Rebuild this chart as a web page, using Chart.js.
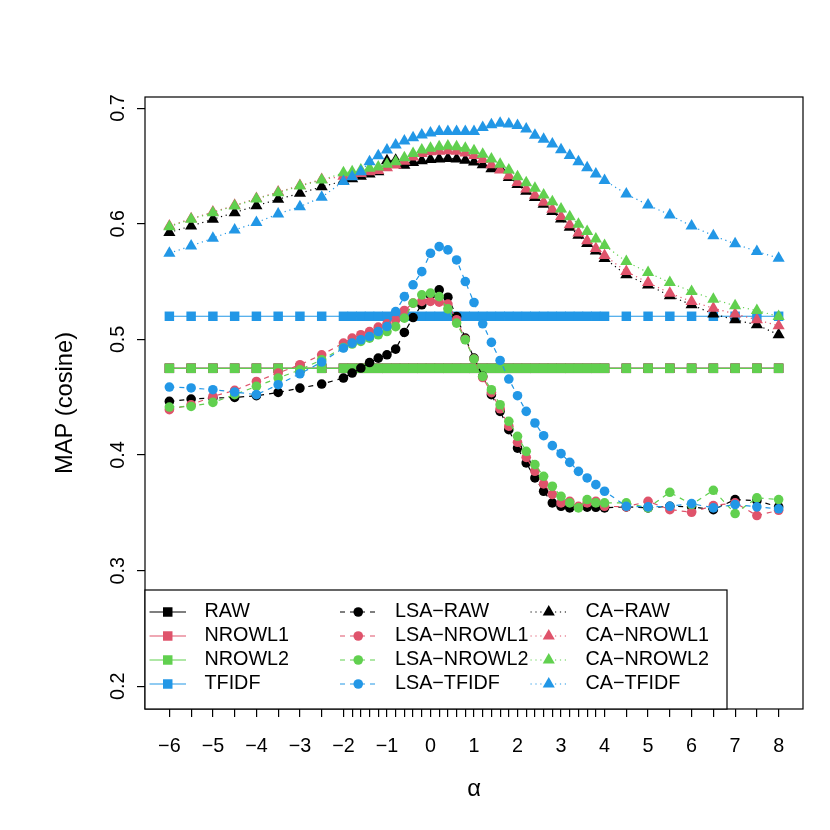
<!DOCTYPE html>
<html>
<head>
<meta charset="utf-8">
<script src="https://cdn.jsdelivr.net/npm/chart.js@4.4.1/dist/chart.umd.min.js"></script>
<style>
html,body{margin:0;padding:0;background:#fff;}
canvas{display:block;}
</style>
</head>
<body>
<canvas id="c" width="830" height="830"></canvas>
<script>
// ---- data ----
const xVals = [-6,-5.5,-5,-4.5,-4,-3.5,-3,-2.5,
  -2,-1.8,-1.6,-1.4,-1.2,-1,-0.8,-0.6,-0.4,-0.2,0,0.2,0.4,0.6,0.8,1,1.2,1.4,1.6,1.8,2,2.2,2.4,2.6,2.8,3,3.2,3.4,3.6,3.8,4,
  4.5,5,5.5,6,6.5,7,7.5,8];
const xTickLabels = [-6,-5,-4,-3,-2,-1,0,1,2,3,4,5,6,7,8];
const yTicks = [0.2,0.3,0.4,0.5,0.6,0.7];

const seriesNames = ['RAW','NROWL1','NROWL2','TFIDF',
  'LSA\u2212RAW','LSA\u2212NROWL1','LSA\u2212NROWL2','LSA\u2212TFIDF',
  'CA\u2212RAW','CA\u2212NROWL1','CA\u2212NROWL2','CA\u2212TFIDF'];

const RAW = [0.475,0.475,0.475,0.475,0.475,0.475,0.475,0.475,
  0.475,0.475,0.475,0.475,0.475,0.475,0.475,0.475,0.475,0.475,0.475,0.475,0.475,0.475,0.475,0.475,0.475,0.475,0.475,0.475,0.475,0.475,0.475,0.475,0.475,0.475,0.475,0.475,0.475,0.475,0.475,
  0.475,0.475,0.475,0.475,0.475,0.475,0.475,0.475];
const NROWL1 = [0.475,0.475,0.475,0.475,0.475,0.475,0.475,0.475,
  0.475,0.475,0.475,0.475,0.475,0.475,0.475,0.475,0.475,0.475,0.475,0.475,0.475,0.475,0.475,0.475,0.475,0.475,0.475,0.475,0.475,0.475,0.475,0.475,0.475,0.475,0.475,0.475,0.475,0.475,0.475,
  0.475,0.475,0.475,0.475,0.475,0.475,0.475,0.475];
const NROWL2 = [0.475,0.475,0.475,0.475,0.475,0.475,0.475,0.475,
  0.475,0.475,0.475,0.475,0.475,0.475,0.475,0.475,0.475,0.475,0.475,0.475,0.475,0.475,0.475,0.475,0.475,0.475,0.475,0.475,0.475,0.475,0.475,0.475,0.475,0.475,0.475,0.475,0.475,0.475,0.475,
  0.475,0.475,0.475,0.475,0.475,0.475,0.475,0.475];
const TFIDF = [0.520,0.520,0.520,0.520,0.520,0.520,0.520,0.520,
  0.520,0.520,0.520,0.520,0.520,0.520,0.520,0.520,0.520,0.520,0.520,0.520,0.520,0.520,0.520,0.520,0.520,0.520,0.520,0.520,0.520,0.520,0.520,0.520,0.520,0.520,0.520,0.520,0.520,0.520,0.520,
  0.520,0.520,0.520,0.520,0.520,0.520,0.520,0.520];

const LSA_RAW = [0.4464,0.4484,0.4493,0.4498,0.4513,0.4541,0.4579,0.4614,
  0.4666,0.4709,0.4752,0.4800,0.4838,0.4867,0.4916,0.5060,0.5189,0.5299,0.5380,0.5428,0.5365,0.5198,0.5011,0.4838,0.4680,0.4522,0.4378,0.4219,0.4060,0.3932,0.3802,0.3687,0.3586,0.3557,0.3543,0.3550,0.3550,0.3548,0.3543,
  0.3552,0.3543,0.3557,0.3552,0.3528,0.3615,0.3605,0.3552];
const LSA_NROWL1 = [0.4392,0.4435,0.4507,0.4559,0.4636,0.4709,0.4781,0.4867,
  0.4968,0.5011,0.5040,0.5068,0.5106,0.5135,0.5169,0.5250,0.5314,0.5328,0.5328,0.5322,0.5305,0.5170,0.5000,0.4830,0.4670,0.4540,0.4400,0.4250,0.4110,0.3980,0.3860,0.3750,0.3660,0.3586,0.3600,0.3557,0.3586,0.3600,0.3557,
  0.3552,0.3600,0.3528,0.3505,0.3563,0.3586,0.3477,0.3522];
const LSA_NROWL2 = [0.4415,0.4420,0.4455,0.4522,0.4594,0.4666,0.4737,0.4824,
  0.4930,0.4960,0.4983,0.5011,0.5040,0.5068,0.5110,0.5184,0.5314,0.5385,0.5400,0.5370,0.5264,0.5141,0.4997,0.4830,0.4680,0.4565,0.4435,0.4292,0.4162,0.4032,0.3917,0.3816,0.3730,0.3643,0.3586,0.3543,0.3615,0.3586,0.3586,
  0.3586,0.3543,0.3678,0.3572,0.3695,0.3494,0.3630,0.3615];
const LSA_TFIDF = [0.4588,0.4580,0.4565,0.4545,0.4522,0.4608,0.4703,0.4804,
  0.4925,0.4968,0.4997,0.5025,0.5068,0.5111,0.5241,0.5370,0.5472,0.5586,0.5745,0.5802,0.5774,0.5687,0.5500,0.5319,0.5135,0.4974,0.4818,0.4657,0.4513,0.4378,0.4277,0.4167,0.4081,0.4012,0.3937,0.3859,0.3802,0.3744,0.3687,
  0.3557,0.3552,0.3557,0.3580,0.3543,0.3572,0.3552,0.3535];

const CA_RAW = [0.5925,0.5980,0.6039,0.6096,0.6156,0.6212,0.6263,0.6320,
  0.6370,0.6390,0.6410,0.6430,0.6450,0.6545,0.6550,0.6505,0.6530,0.6545,0.6555,0.6560,0.6565,0.6560,0.6550,0.6535,0.6510,0.6475,0.6480,0.6400,0.6340,0.6280,0.6228,0.6168,0.6105,0.6040,0.5970,0.5900,0.5830,0.5765,0.5700,
  0.5558,0.5471,0.5377,0.5299,0.5220,0.5169,0.5126,0.5040];
const CA_NROWL1 = [0.5980,0.6044,0.6101,0.6159,0.6219,0.6274,0.6331,0.6383,
  0.6410,0.6420,0.6435,0.6450,0.6460,0.6484,0.6507,0.6541,0.6578,0.6607,0.6622,0.6626,0.6632,0.6626,0.6612,0.6591,0.6555,0.6510,0.6464,0.6415,0.6357,0.6300,0.6246,0.6185,0.6125,0.6062,0.5991,0.5921,0.5852,0.5786,0.5725,
  0.5587,0.5491,0.5400,0.5328,0.5270,0.5220,0.5170,0.5117];
const CA_NROWL2 = [0.5975,0.6039,0.6096,0.6154,0.6214,0.6269,0.6326,0.6378,
  0.6440,0.6450,0.6465,0.6480,0.6490,0.6514,0.6537,0.6571,0.6608,0.6637,0.6652,0.6666,0.6672,0.6666,0.6652,0.6631,0.6600,0.6560,0.6514,0.6465,0.6407,0.6355,0.6306,0.6249,0.6191,0.6128,0.6061,0.5996,0.5932,0.5869,0.5812,
  0.5673,0.5578,0.5491,0.5414,0.5348,0.5290,0.5250,0.5198];
const CA_TFIDF = [0.5745,0.5808,0.5875,0.5946,0.6010,0.6085,0.6148,0.6229,
  0.6366,0.6407,0.6450,0.6537,0.6588,0.6637,0.6680,0.6715,0.6744,0.6767,0.6784,0.6797,0.6797,0.6797,0.6797,0.6797,0.6833,0.6856,0.6868,0.6862,0.6850,0.6820,0.6765,0.6730,0.6690,0.6640,0.6590,0.6536,0.6484,0.6430,0.6375,
  0.6257,0.6162,0.6076,0.5980,0.5897,0.5826,0.5760,0.5702];

const seriesValues = [RAW,NROWL1,NROWL2,TFIDF,LSA_RAW,LSA_NROWL1,LSA_NROWL2,LSA_TFIDF,CA_RAW,CA_NROWL1,CA_NROWL2,CA_TFIDF];

// ---- styles ----
const palette = ['#000000','#DF536B','#61D04F','#2297E6'];
const groupStyle = [
  {pointStyle:'rect', radius:6.7, dash:[]},
  {pointStyle:'circle', radius:4.8, dash:[5,5]},
  {pointStyle:'triangle', radius:7, dash:[1.2,3.7]}
];
const FONT = '"Liberation Sans", Arial, sans-serif';

const datasets = seriesValues.map((vals, i) => {
  const g = groupStyle[Math.floor(i/4)];
  const col = palette[i % 4];
  return {
    label: seriesNames[i],
    data: vals.map((v, j) => ({x: xVals[j], y: v})),
    borderColor: col,
    backgroundColor: col,
    borderWidth: 1.2,
    borderDash: g.dash,
    pointStyle: g.pointStyle,
    pointRadius: g.radius,
    pointHoverRadius: g.radius,
    pointBackgroundColor: col,
    pointBorderColor: col,
    pointBorderWidth: 0,
    tension: 0,
    fill: false,
    order: seriesValues.length - i
  };
});

function fmtTick(v) {
  return v < 0 ? '\u2212' + Math.abs(v) : String(v);
}

function drawShape(ctx, style, x, y, r) {
  ctx.beginPath();
  if (style === 'rect') {
    const s = r * Math.SQRT1_2;
    ctx.rect(x - s, y - s, 2 * s, 2 * s);
  } else if (style === 'circle') {
    ctx.arc(x, y, r, 0, Math.PI * 2);
  } else {
    ctx.moveTo(x, y - r);
    ctx.lineTo(x + r * Math.sin(2 * Math.PI / 3), y - r * Math.cos(2 * Math.PI / 3));
    ctx.lineTo(x + r * Math.sin(4 * Math.PI / 3), y - r * Math.cos(4 * Math.PI / 3));
    ctx.closePath();
  }
  ctx.fill();
}

const boxLegend = {
  id: 'boxLegend',
  afterDraw(chart) {
    const {ctx, chartArea: ca} = chart;
    ctx.save();
    // plot frame
    ctx.strokeStyle = '#000';
    ctx.lineWidth = 1.2;
    ctx.setLineDash([]);
    ctx.strokeRect(ca.left, ca.top, ca.right - ca.left, ca.bottom - ca.top);
    // legend box
    const lx = ca.left, ly = ca.bottom - 119, lw = 582, lh = 119;
    ctx.fillStyle = '#fff';
    ctx.fillRect(lx, ly, lw, lh);
    ctx.strokeRect(lx, ly, lw, lh);
    ctx.font = '19.76px ' + FONT;
    ctx.textBaseline = 'middle';
    ctx.textAlign = 'left';
    for (let i = 0; i < datasets.length; i++) {
      const col = Math.floor(i / 4), row = i % 4;
      const ds = datasets[i];
      const g = groupStyle[col];
      const sx = lx + 4.5 + col * 190.5;
      const sy = ly + 22 + row * 24;
      ctx.strokeStyle = ds.borderColor;
      ctx.lineWidth = 1.2;
      ctx.setLineDash(g.dash);
      ctx.beginPath();
      ctx.moveTo(sx, sy);
      ctx.lineTo(sx + 36.5, sy);
      ctx.stroke();
      ctx.setLineDash([]);
      ctx.fillStyle = ds.borderColor;
      drawShape(ctx, g.pointStyle, sx + 18.25, sy, g.radius);
      ctx.fillStyle = '#000';
      ctx.fillText(ds.label, sx + 55, sy);
    }
    ctx.restore();
  }
};

new Chart(document.getElementById('c').getContext('2d'), {
  type: 'line',
  data: {datasets},
  options: {
    responsive: false,
    animation: false,
    devicePixelRatio: 1,
    layout: {padding: {top: 97, right: 27, left: 0, bottom: 0}},
    plugins: {legend: {display: false}, tooltip: {enabled: false}},
    scales: {
      x: {
        type: 'linear',
        min: -6.56,
        max: 8.56,
        afterBuildTicks: s => { s.ticks = xVals.map(v => ({value: v})); },
        afterFit: s => { s.height = 121; },
        ticks: {
          autoSkip: false, maxRotation: 0, minRotation: 0,
          color: '#000', padding: 18,
          font: {family: FONT, size: 19.76},
          callback: v => xTickLabels.includes(v) ? fmtTick(v) : ''
        },
        grid: {drawOnChartArea: false, drawTicks: true, tickLength: 8, color: '#000', lineWidth: 1.2},
        border: {display: false},
        title: {display: true, text: '\u03B1', color: '#000',
          font: {family: FONT, size: 23.7}, padding: {top: 0, bottom: 26}}
      },
      y: {
        min: 0.1804,
        max: 0.7096,
        afterBuildTicks: s => { s.ticks = yTicks.map(v => ({value: v})); },
        afterFit: s => { s.width = 145; },
        ticks: {
          minRotation: 90, maxRotation: 90, crossAlign: 'center',
          color: '#000', padding: 5,
          font: {family: FONT, size: 19.76},
          callback: v => String(v)
        },
        grid: {drawOnChartArea: false, drawTicks: true, tickLength: 8, color: '#000', lineWidth: 1.2},
        border: {display: false},
        title: {display: true, text: 'MAP (cosine)', color: '#000',
          font: {family: FONT, size: 23.7}, padding: {top: 51, bottom: 0}}
      }
    }
  },
  plugins: [boxLegend]
});
</script>
</body>
</html>
